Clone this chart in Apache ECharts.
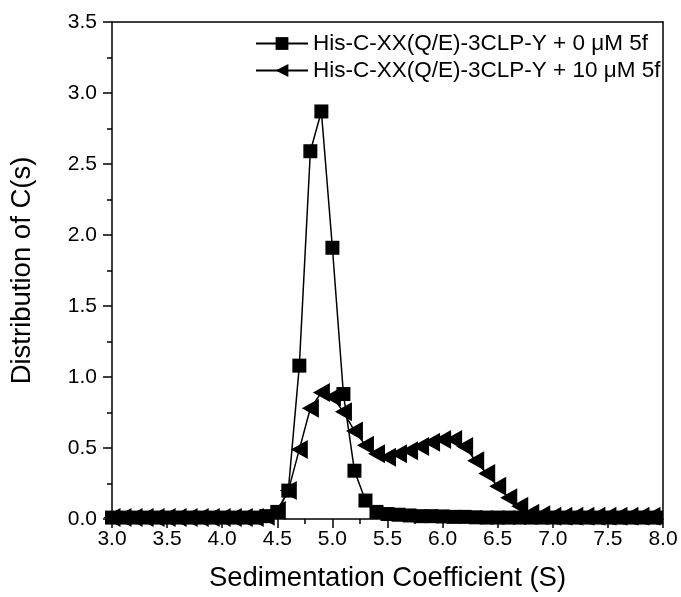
<!DOCTYPE html>
<html>
<head>
<meta charset="utf-8">
<script src="https://cdn.jsdelivr.net/npm/echarts@6/dist/echarts.min.js"></script>
<style>html,body{margin:0;padding:0;background:#fff;}#c{width:681px;height:597px;}</style>
</head>
<body>
<div id="c"></div>
<script>
const sValues = [3.0,3.1,3.2,3.3,3.4,3.5,3.6,3.7,3.8,3.9,4.0,4.1,4.2,4.3,4.4,4.5,4.6,4.7,4.8,4.9,5.0,5.1,5.2,5.3,5.4,5.5,5.6,5.7,5.8,5.9,6.0,6.1,6.2,6.3,6.4,6.5,6.6,6.7,6.8,6.9,7.0,7.1,7.2,7.3,7.4,7.5,7.6,7.7,7.8,7.9,8.0];
const c0uM = [0.01,0.01,0.01,0.01,0.01,0.01,0.01,0.01,0.01,0.01,0.01,0.01,0.01,0.01,0.02,0.05,0.20,1.08,2.59,2.87,1.91,0.88,0.34,0.13,0.05,0.035,0.03,0.025,0.02,0.02,0.018,0.015,0.015,0.012,0.01,0.01,0.01,0.01,0.01,0.01,0.01,0.01,0.01,0.01,0.01,0.01,0.01,0.01,0.01,0.01,0.01];
const c10uM = [0.01,0.01,0.01,0.01,0.01,0.01,0.01,0.01,0.01,0.01,0.01,0.01,0.01,0.01,0.02,0.06,0.20,0.49,0.78,0.89,0.86,0.755,0.62,0.52,0.46,0.435,0.46,0.48,0.51,0.54,0.56,0.56,0.51,0.41,0.32,0.23,0.15,0.09,0.04,0.03,0.02,0.02,0.02,0.02,0.02,0.02,0.02,0.02,0.02,0.02,0.02];
const seriesNames = ['His-C-XX(Q/E)-3CLP-Y + 0 μM 5f', 'His-C-XX(Q/E)-3CLP-Y + 10 μM 5f'];
const xTicks = ['3.0','3.5','4.0','4.5','5.0','5.5','6.0','6.5','7.0','7.5','8.0'];
const yTicks = ['0.0','0.5','1.0','1.5','2.0','2.5','3.0','3.5'];

const FONT = 'Liberation Sans, Arial, sans-serif';
const chart = echarts.init(document.getElementById('c'), null, {renderer: 'canvas'});
const L = 101, R = 663, T = 22, B = 532;
const axisCommon = {
  z: 200,
  axisLine: {show: true, onZero: false, lineStyle: {color: '#000', width: 1.5}},
  axisTick: {show: true, inside: false, length: 9, lineStyle: {color: '#000', width: 1.5}},
  minorTick: {show: true, splitNumber: 2, length: 5, lineStyle: {color: '#000', width: 1.5}},
  splitLine: {show: false},
  axisLabel: {color: '#000', fontSize: 21, fontFamily: FONT}
};
chart.setOption({
  animation: false,
  backgroundColor: '#fff',
  grid: {left: L, right: 681 - R, top: T, bottom: 597 - B, containLabel: false},
  legend: {
    orient: 'vertical', left: 250, top: 27, z: 150, itemWidth: 52, itemHeight: 16, itemGap: 4,
    textStyle: {color: '#000', fontSize: 22.5, fontFamily: FONT},
    data: seriesNames
  },
  graphic: [
    {type: 'rect', z: 100, shape: {x: 0, y: B, width: 681, height: 597 - B}, style: {fill: '#fff'}},
    {type: 'rect', z: 100, shape: {x: 0, y: 0, width: L, height: 597}, style: {fill: '#fff'}},
    {type: 'rect', z: 100, shape: {x: R, y: 0, width: 681 - R, height: 597}, style: {fill: '#fff'}},
    {type: 'rect', z: 100, shape: {x: 0, y: 0, width: 681, height: T}, style: {fill: '#fff'}}
  ],
  xAxis: [
    Object.assign({}, axisCommon, {
      type: 'value', min: 3.0, max: 8.0, interval: 0.5, position: 'bottom',
      name: 'Sedimentation Coefficient (S)', nameLocation: 'middle', nameGap: 45,
      nameTextStyle: {color: '#000', fontSize: 27.5, fontFamily: FONT},
      axisLabel: Object.assign({}, axisCommon.axisLabel, {margin: 10, formatter: v => xTicks[Math.round((v - 3) / 0.5)]})
    }),
    {type: 'value', min: 3.0, max: 8.0, interval: 0.5, position: 'top', z: 200,
     axisLine: {show: true, onZero: false, lineStyle: {color: '#000', width: 1.5}},
     axisTick: {show: false}, axisLabel: {show: false}, splitLine: {show: false}}
  ],
  yAxis: [
    Object.assign({}, axisCommon, {
      type: 'value', min: 0, max: 3.5, interval: 0.5, position: 'left',
      name: 'Distribution of C(s)', nameLocation: 'middle', nameGap: 76, nameRotate: 90,
      nameTextStyle: {color: '#000', fontSize: 27.5, fontFamily: FONT},
      axisLabel: Object.assign({}, axisCommon.axisLabel, {margin: 15, formatter: v => yTicks[Math.round(v / 0.5)]})
    }),
    {type: 'value', min: 0, max: 3.5, interval: 0.5, position: 'right', z: 200,
     axisLine: {show: true, onZero: false, lineStyle: {color: '#000', width: 1.5}},
     axisTick: {show: false}, axisLabel: {show: false}, splitLine: {show: false}}
  ],
  series: [
    {
      name: seriesNames[0], type: 'line', xAxisIndex: 0, yAxisIndex: 0,
      data: sValues.map((x, i) => [x, c0uM[i]]),
      symbol: 'rect', symbolSize: 14, showAllSymbol: true, clip: true,
      lineStyle: {color: '#000', width: 1.5}, itemStyle: {color: '#000'}
    },
    {
      name: seriesNames[1], type: 'line', xAxisIndex: 0, yAxisIndex: 0,
      data: sValues.map((x, i) => [x, c10uM[i]]),
      symbol: 'triangle', symbolSize: [19, 17], symbolRotate: 90, showAllSymbol: true, clip: true,
      lineStyle: {color: '#000', width: 1.5}, itemStyle: {color: '#000'}
    }
  ]
});
</script>
</body>
</html>
